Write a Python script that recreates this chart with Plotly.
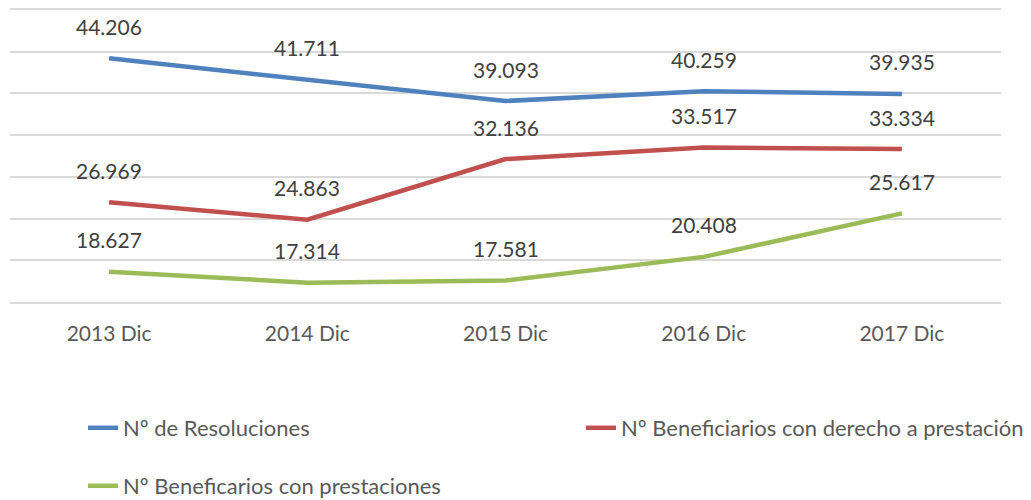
import plotly.graph_objects as go

categories = ["2013 Dic", "2014 Dic", "2015 Dic", "2016 Dic", "2017 Dic"]
resoluciones = [44206, 41711, 39093, 40259, 39935]
benef_derecho = [26969, 24863, 32136, 33517, 33334]
benef_prest = [18627, 17314, 17581, 20408, 25617]

series = [
    ("Nº de Resoluciones", resoluciones, "#4F81BD", "legend"),
    ("Nº Beneficiarios con derecho a prestación", benef_derecho, "#C0504D", "legend2"),
    ("Nº Beneficarios con prestaciones", benef_prest, "#9BBB59", "legend3"),
]

FONT = "Lato, 'Open Sans', sans-serif"

def fmt(v):
    return f"{v:,}".replace(",", ".")

fig = go.Figure()
annotations = []
for name, vals, color, leg in series:
    fig.add_trace(go.Scatter(
        x=categories, y=vals, mode="lines", name=name,
        line=dict(color=color, width=4.5), legend=leg,
    ))
    for c, v in zip(categories, vals):
        annotations.append(dict(
            x=c, y=v, text=fmt(v), showarrow=False, yshift=32,
            font=dict(family=FONT, size=21, color="#404040"),
        ))

W, H = 1031, 500
L, R, T, B = 10, 30, 10, 198

def leg(px, py):
    return dict(
        orientation="h", xref="container", yref="container",
        x=px / W, xanchor="left", y=1 - py / H, yanchor="middle",
        font=dict(family=FONT, size=22, color="#595959"),
        bgcolor="rgba(0,0,0,0)", borderwidth=0,
    )

fig.update_layout(
    width=W, height=H,
    margin=dict(l=L, r=R, t=T, b=B, autoexpand=False),
    plot_bgcolor="white", paper_bgcolor="white",
    font=dict(family=FONT, size=21, color="#595959"),
    annotations=annotations,
    xaxis=dict(
        type="category", range=[-0.5, 4.5], showgrid=False, zeroline=False,
        showline=True, mirror=True, linecolor="#D9D9D9", linewidth=2,
        ticks="", ticklabelstandoff=12,
        tickfont=dict(family=FONT, size=21, color="#595959"),
    ),
    yaxis=dict(
        range=[15000, 50000], tick0=15000, dtick=5000, showticklabels=False,
        showgrid=True, gridcolor="#D9D9D9", gridwidth=2, zeroline=False,
        showline=False, ticks="",
    ),
    showlegend=True,
    legend=leg(83, 428),
    legend2=leg(581, 428),
    legend3=leg(83, 486),
)

fig.write_html(
    "out.html",
    config={"displayModeBar": False},
    post_script="document.body.style.margin='0';",
)
